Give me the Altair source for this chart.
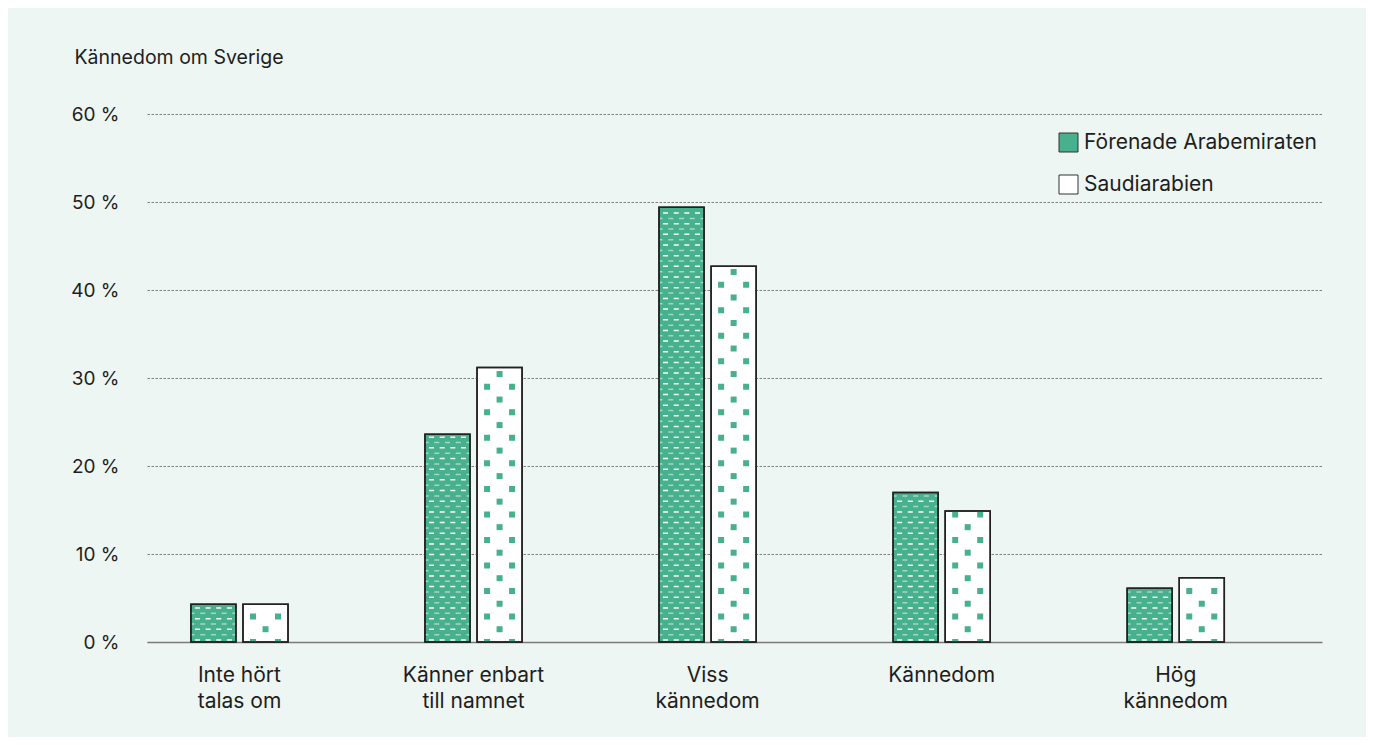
import altair as alt
import pandas as pd

# ---- data ----
categories = ["Inte hört|talas om", "Känner enbart|till namnet", "Viss|kännedom", "Kännedom", "Hög|kännedom"]
series = ["Förenade Arabemiraten", "Saudiarabien"]
uae = [4.3, 23.6, 49.4, 17.0, 6.1]
saudi = [4.3, 31.2, 42.7, 14.9, 7.3]
y_ticks = [0, 10, 20, 30, 40, 50, 60]

rows = []
for c, a, b in zip(categories, uae, saudi):
    rows.append({"category": c, "series": series[0], "value": a})
    rows.append({"category": c, "series": series[1], "value": b})
df = pd.DataFrame(rows)

GREEN = "#47B08D"
TEXT = "#1e1e1e"
FONT = "Inter"

# pattern glyphs (custom symbol paths, 1 unit = 1 px when size=4)
DASH_A = "M-18.5,-0.75h5v1.5h-5z M-7.8,-0.75h5v1.5h-5z M2.8,-0.75h5v1.5h-5z M13.5,-0.75h5v1.5h-5z"
DASH_B = "M-22,-0.75h3v1.5h-3z M-13.2,-0.75h5v1.5h-5z M-2.5,-0.75h5v1.5h-5z M8.2,-0.75h5v1.5h-5z M19,-0.75h3v1.5h-3z"
DOT_PAIR = "M-15.5,-3h6v6h-6z M9.5,-3h6v6h-6z"
DOT_MID = "M-3,-3h6v6h-6z"

x_enc = alt.X(
    "category:N", sort=categories,
    scale=alt.Scale(paddingInner=0.585, paddingOuter=0.3025, align=0.31),
    axis=alt.Axis(title=None, labelExpr="split(datum.value, '|')", labelAngle=0,
                  labelFontSize=21, labelPadding=22, labelLineHeight=26,
                  labelColor=TEXT, labelFont=FONT, domainColor="#7a7a7a",
                  domainWidth=1.5, ticks=False, grid=False),
)
xoff = alt.XOffset("series:N", sort=series, scale=alt.Scale(paddingInner=0.135, paddingOuter=0))
y_enc = alt.Y(
    "value:Q", scale=alt.Scale(domain=[0, 60], nice=False),
    axis=alt.Axis(values=y_ticks, labelExpr="datum.value + ' %'",
                  title="Kännedom om Sverige", titleAngle=0, titleX=-73, titleY=-57,
                  titleAlign="left", titleBaseline="middle", titleFontSize=19.5,
                  titleFontWeight="normal", titleFont=FONT, titleColor=TEXT,
                  labelFontSize=19, labelFont=FONT, labelColor=TEXT, labelPadding=28,
                  domain=False, ticks=False, grid=True, gridColor="#808080",
                  gridDash=[2.5, 1.5], gridWidth=1),
)

base = alt.Chart(df)

bars = base.mark_bar(stroke="#222", strokeWidth=1.5).encode(
    x=x_enc, xOffset=xoff, y=y_enc,
    color=alt.Color("series:N", sort=series,
                    scale=alt.Scale(domain=series, range=[GREEN, "white"]),
                    legend=alt.Legend(orient="none", legendX=911, legendY=18, title=None,
                                      symbolType="square", symbolSize=361,
                                      symbolStrokeColor="#333", symbolStrokeWidth=1,
                                      labelFontSize=21, labelFont=FONT, labelColor=TEXT,
                                      labelLimit=0, labelOffset=5, rowPadding=19, padding=0)),
)


def pattern(which, start, step, margin, shape, fill, opacity):
    return (
        base.transform_filter(alt.datum.series == which)
        .transform_calculate(rows=f"sequence({start}, datum.value, {step})")
        .transform_flatten(["rows"])
        .transform_filter(f"datum.rows <= datum.value - {margin}")
        .transform_calculate(value="datum.rows")
        .mark_point(shape=shape, size=4, filled=True, fill=fill, opacity=opacity,
                    strokeWidth=0, clip=True)
        .encode(x=x_enc, xOffset=xoff, y=y_enc)
    )


dash_a = pattern(series[0], 0.23, 1.213, 0.15, DASH_A, "white", 0.95)
dash_b = pattern(series[0], 0.83, 1.213, 0.15, DASH_B, "white", 0.5)
dot_pair = pattern(series[1], 0, 2.9, 0.34, DOT_PAIR, GREEN, 1)
dot_mid = pattern(series[1], 1.45, 2.9, 0.34, DOT_MID, GREEN, 1)

outline = base.mark_bar(fillOpacity=0, stroke="#222", strokeWidth=1.5).encode(
    x=x_enc, xOffset=xoff, y=y_enc
)

chart = (
    alt.layer(bars, dash_a, dash_b, dot_pair, dot_mid, outline)
    .properties(width=1175, height=528, autosize=alt.AutoSizeParams(type="none"),
                padding={"left": 139, "top": 106, "right": 44, "bottom": 95},
                background="#EEF6F3")
    .configure(font=FONT)
    .configure_view(stroke="transparent", strokeWidth=0)
)

chart.save("out.html", embed_options={"renderer": "svg", "actions": False})
